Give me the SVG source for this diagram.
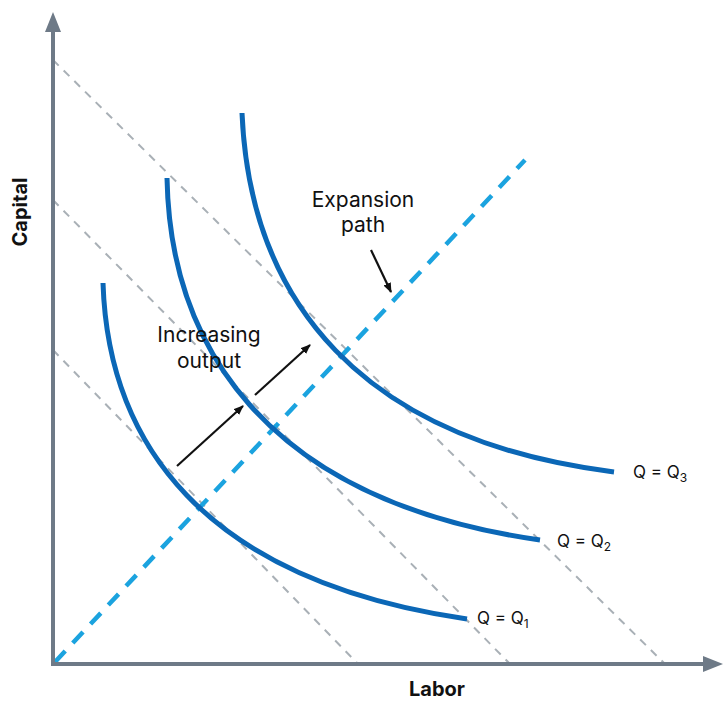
<svg xmlns="http://www.w3.org/2000/svg" width="726" height="704" viewBox="0 0 726 704">
<defs>
<style>
.axis{stroke:#6E7A87;stroke-width:4;fill:none}
.iso{stroke:#A9B0B6;stroke-width:2;stroke-dasharray:8 7;fill:none}
.q{stroke:#0B67B6;stroke-width:5;fill:none}
.exp{stroke:#1BA3DF;stroke-width:4.5;stroke-dasharray:15 11;fill:none}
.arr{stroke:#111;stroke-width:2.2;fill:none}
text{font-family:Inter,"Noto Sans","Liberation Sans",sans-serif;fill:#111}
.lbl{font-size:21px}
.ql{font-size:17px}
.ax{font-size:20px;font-weight:700}
</style>
<marker id="ah" markerWidth="10" markerHeight="8" refX="9" refY="4" orient="auto" markerUnits="userSpaceOnUse">
<path d="M0,0 L10,4 L0,8 z" fill="#111"/>
</marker>
<marker id="axh" markerWidth="20" markerHeight="16" refX="2" refY="8" orient="auto" markerUnits="userSpaceOnUse">
<path d="M0,0 L20,8 L0,16 z" fill="#6E7A87"/>
</marker>
</defs>
<rect width="726" height="704" fill="#fff"/>
<g id="connectors">
<line class="iso" x1="53" y1="60" x2="665" y2="664"/>
<line class="iso" x1="53" y1="200" x2="510" y2="664"/>
<line class="iso" x1="53" y1="350" x2="358" y2="664"/>
<line class="exp" x1="55" y1="662" x2="525" y2="160"/>
<path class="q" d="M103,283 C108,440 200,580 467,619"/>
<path class="q" d="M167,178 C170,340 260,500 540,540"/>
<path class="q" d="M242,113 C250,300 360,440 614,472"/>
<line class="arr" x1="177" y1="466" x2="243" y2="406" marker-end="url(#ah)"/>
<line class="arr" x1="255" y1="395" x2="310" y2="345" marker-end="url(#ah)"/>
<line class="arr" x1="371" y1="250" x2="391" y2="292" marker-end="url(#ah)"/>
</g>
<g id="axes">
<line class="axis" x1="53" y1="666" x2="53" y2="30" marker-end="url(#axh)"/>
<line class="axis" x1="51" y1="664" x2="705" y2="664" marker-end="url(#axh)"/>
<text class="ax" x="437" y="696" text-anchor="middle">Labor</text>
<text class="ax" transform="translate(27,212) rotate(-90)" text-anchor="middle">Capital</text>
</g>
<g id="label-increasing">
<text class="lbl" x="209" y="342" text-anchor="middle">Increasing</text>
<text class="lbl" x="209" y="368" text-anchor="middle">output</text>
</g>
<g id="label-expansion">
<text class="lbl" x="363" y="207" text-anchor="middle">Expansion</text>
<text class="lbl" x="363" y="232" text-anchor="middle">path</text>
</g>
<g id="q1"><text class="ql" x="477" y="624">Q = Q<tspan font-size="12" dy="4">1</tspan></text></g>
<g id="q2"><text class="ql" x="557" y="547">Q = Q<tspan font-size="12" dy="4">2</tspan></text></g>
<g id="q3"><text class="ql" x="633" y="478">Q = Q<tspan font-size="12" dy="4">3</tspan></text></g>
</svg>
